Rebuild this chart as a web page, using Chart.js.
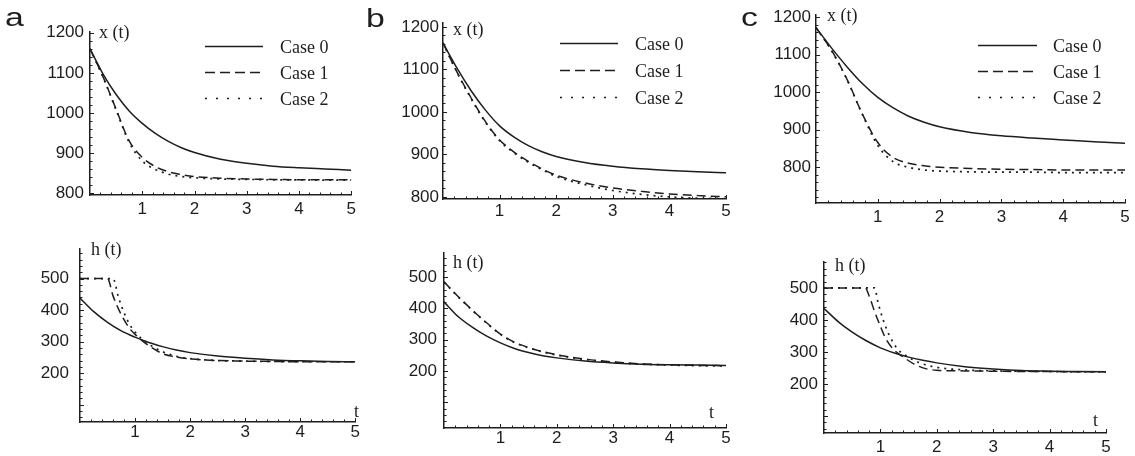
<!DOCTYPE html>
<html><head><meta charset="utf-8">
<script src="https://cdn.jsdelivr.net/npm/chart.js@4.4.1/dist/chart.umd.min.js"></script>
<style>
html,body{margin:0;padding:0;background:#fff;}
#wrap{position:relative;width:1135px;height:456px;overflow:hidden;background:#fff;}
canvas.box{position:absolute;}
</style></head><body><div id="wrap"></div>
<script>
// ---------- data ----------
const caseLabels = ['Case 0', 'Case 1', 'Case 2'];
const panelLetters = ['a', 'b', 'c'];
const xTickValues = [1, 2, 3, 4, 5];
const xStateTicks = [800, 900, 1000, 1100, 1200];
const hTicks = [200, 300, 400, 500];
const tGrid = [0, 0.25, 0.5, 0.75, 1, 1.25, 1.5, 1.75, 2, 2.5, 3, 3.5, 4, 4.5, 5];

// panel a
const xA0 = [1160, 1097, 1046, 1005, 974, 949, 929, 913, 901, 884, 874, 867, 863, 860, 857];
const xA1 = [1160, 1090, 1009, 930, 889, 866, 853, 846, 841, 837, 835, 834, 833, 833, 833];
const xA2 = [1160, 1089, 1007, 926, 880, 859, 847, 841, 838, 835, 834, 833, 833, 832, 832];
const hA0 = [438, 395, 361, 334, 314, 297, 284, 273, 265, 254, 247, 242, 239, 237, 236];
const tHA1 = [0, 0.5, 0.6, 0.75, 0.9, 1, 1.25, 1.5, 1.75, 2, 2.5, 3, 3.5, 4, 4.5, 5];
const hA1 = [500, 500, 445, 385, 342, 323, 287, 262, 251, 245, 240, 238, 237, 236, 236, 236];
const tHA2 = [0, 0.6, 0.7, 0.8, 0.9, 1, 1.25, 1.5, 1.75, 2, 2.5, 3, 3.5, 4, 4.5, 5];
const hA2 = [500, 500, 440, 392, 355, 330, 292, 268, 253, 246, 240, 238, 237, 236, 236, 236];

// panel b
const xB0 = [1162, 1102, 1049, 1004, 967, 941, 921, 906, 895, 881, 872, 866, 862, 859, 857];
const xB1 = [1162, 1093, 1032, 977, 934, 906, 884, 866, 851, 833, 821, 813, 807, 803, 800];
const xB2 = [1162, 1092, 1030, 975, 932, 904, 882, 864, 848, 829, 815, 806, 800, 797, 796];
const hB0 = [421, 374, 340, 312, 290, 272, 259, 249, 242, 232, 226, 222, 220, 219, 218];
const hB1 = [485, 438, 395, 355, 318, 292, 275, 262, 252, 238, 229, 223, 220, 218, 217];
const hB2 = [484, 437, 394, 354, 317, 291, 274, 261, 251, 237, 228, 222, 219, 217, 216];

// panel c
const xC0 = [1172, 1118, 1068, 1023, 986, 958, 936, 920, 908, 893, 884, 878, 873, 868, 864];
const xC1 = [1172, 1112, 1035, 942, 866, 826, 811, 804, 800, 797, 795, 794, 793, 793, 793];
const xC2 = [1172, 1111, 1034, 941, 858, 815, 800, 793, 790, 788, 787, 787, 786, 786, 786];
const hC0 = [436, 395, 362, 335, 313, 297, 284, 274, 266, 254, 247, 242, 240, 239, 238];
const tHC1 = [0, 0.73, 0.8, 0.9, 1, 1.1, 1.25, 1.4, 1.6, 1.8, 2, 2.5, 3, 3.5, 4, 4.5, 5];
const hC1 = [500, 500, 475, 425, 380, 340, 305, 285, 262, 248, 243, 241, 240, 239, 239, 238, 238];
const tHC2 = [0, 0.9, 0.95, 1.05, 1.15, 1.3, 1.45, 1.7, 2, 2.5, 3, 3.5, 4, 4.5, 5];
const hC2 = [500, 500, 460, 400, 355, 310, 289, 266, 252, 244, 241, 240, 239, 238, 238];

// ---------- styling / layout ----------
const INK = '#1e1e1e';
const curveDash = [[], [9, 5], [2, 5]];
const legendDash = [[], [10, 5], [2, 9]];
const SANS = '"Liberation Sans", Arial, sans-serif';
const SERIF = '"Liberation Serif", "Times New Roman", serif';

const panels = [
  { box: [0, 0, 360, 228], area: [90, 32, 353, 195], yMin: 795, yMax: 1202, yTicks: xStateTicks,
    yPad: 6, xPad: 4, title: 'x (t)', titlePos: [99, 38], letter: panelLetters[0], letterPos: [5, 26],
    legend: { x0: 205, x1: 263, tx: 280, rows: [46, 72, 98] },
    series: [{ t: tGrid, v: xA0, k: 0 }, { t: tGrid, v: xA1, k: 1 }, { t: tGrid, v: xA2, k: 2 }] },
  { box: [0, 228, 360, 228], area: [80, 245, 368, 422], yMin: 45, yMax: 593, yTicks: hTicks,
    yPad: 11, xPad: 0, title: 'h (t)', titlePos: [91, 255], tPos: [354, 417],
    series: [{ t: tGrid, v: hA0, k: 0 }, { t: tHA1, v: hA1, k: 1 }, { t: tHA2, v: hA2, k: 2 }] },
  { box: [360, 0, 378, 228], area: [443, 23, 726, 199], yMin: 795, yMax: 1209, yTicks: xStateTicks,
    yPad: 4, xPad: 2, title: 'x (t)', titlePos: [453, 35], letter: panelLetters[1], letterPos: [366, 27],
    legend: { x0: 560, x1: 618, tx: 635, rows: [43, 70, 97] },
    series: [{ t: tGrid, v: xB0, k: 0 }, { t: tGrid, v: xB1, k: 1 }, { t: tGrid, v: xB2, k: 2 }] },
  { box: [360, 228, 378, 228], area: [444, 253, 726, 428], yMin: 18, yMax: 577, yTicks: hTicks,
    yPad: 7, xPad: 0, title: 'h (t)', titlePos: [453, 268], tPos: [709, 418],
    series: [{ t: tGrid, v: hB0, k: 0 }, { t: tGrid, v: hB1, k: 1 }, { t: tGrid, v: hB2, k: 2 }] },
  { box: [738, 0, 397, 228], area: [816, 13, 1125, 203], yMin: 705, yMax: 1205, yTicks: xStateTicks,
    yPad: 5, xPad: 4, title: 'x (t)', titlePos: [827, 21], letter: panelLetters[2], letterPos: [741, 26],
    legend: { x0: 978, x1: 1037, tx: 1053, rows: [45, 71, 97] },
    series: [{ t: tGrid, v: xC0, k: 0 }, { t: tGrid, v: xC1, k: 1 }, { t: tGrid, v: xC2, k: 2 }] },
  { box: [738, 228, 397, 228], area: [824, 262, 1106, 433], yMin: 47, yMax: 581, yTicks: hTicks,
    yPad: 6, xPad: 4, title: 'h (t)', titlePos: [835, 271], tPos: [1093, 426],
    series: [{ t: tGrid, v: hC0, k: 0 }, { t: tHC1, v: hC1, k: 1 }, { t: tHC2, v: hC2, k: 2 }] }
];

function makeDecor(p) {
  const ox = p.box[0], oy = p.box[1];
  return {
    id: 'decor',
    afterDraw(chart) {
      const ctx = chart.ctx, a = chart.chartArea;
      const xs = chart.scales.x, ys = chart.scales.y;
      ctx.save();
      ctx.strokeStyle = INK; ctx.fillStyle = INK; ctx.lineWidth = 1;
      // ticks on axes (inside)
      ctx.beginPath();
      for (let i = 1; i <= 25; i++) {
        const v = i * 0.2;
        const px = Math.round(xs.getPixelForValue(v)) + 0.5;
        const len = (i % 5 === 0) ? 4 : 2.5;
        ctx.moveTo(px, a.bottom); ctx.lineTo(px, a.bottom - len);
      }
      for (let v = Math.ceil(ys.min / 20) * 20; v <= ys.max; v += 20) {
        const py = Math.round(ys.getPixelForValue(v)) + 0.5;
        const len = (v % 100 === 0) ? 4 : 2.5;
        ctx.moveTo(a.left, py); ctx.lineTo(a.left + len, py);
      }
      ctx.stroke();
      // axis title
      ctx.font = '18px ' + SERIF;
      ctx.textBaseline = 'alphabetic'; ctx.textAlign = 'left';
      ctx.fillText(p.title, p.titlePos[0] - ox, p.titlePos[1] - oy);
      if (p.tPos) ctx.fillText('t', p.tPos[0] - ox, p.tPos[1] - oy);
      // legend
      if (p.legend) {
        const L = p.legend;
        L.rows.forEach((ry, i) => {
          ctx.save();
          ctx.lineWidth = 1.6; ctx.setLineDash(legendDash[i]);
          ctx.beginPath();
          ctx.moveTo(L.x0 - ox, ry - oy + 0.5); ctx.lineTo(L.x1 - ox, ry - oy + 0.5);
          ctx.stroke();
          ctx.restore();
          ctx.fillText(caseLabels[i], L.tx - ox, ry - oy + 6.5);
        });
      }
      // panel letter
      if (p.letter) {
        ctx.save();
        ctx.font = '26px ' + SANS;
        ctx.translate(p.letterPos[0] - ox, p.letterPos[1] - oy);
        ctx.scale(1.3, 1);
        ctx.fillText(p.letter, 0, 0);
        ctx.restore();
      }
      ctx.restore();
    }
  };
}

const wrap = document.getElementById('wrap');
panels.forEach(p => {
  const cv = document.createElement('canvas');
  cv.className = 'box';
  cv.width = p.box[2]; cv.height = p.box[3];
  cv.style.left = p.box[0] + 'px'; cv.style.top = p.box[1] + 'px';
  cv.style.width = p.box[2] + 'px'; cv.style.height = p.box[3] + 'px';
  wrap.appendChild(cv);
  const yW = p.area[0] - p.box[0];
  const padTop = p.area[1] - p.box[1];
  const padRight = p.box[0] + p.box[2] - p.area[2];
  const xH = p.box[1] + p.box[3] - p.area[3];
  new Chart(cv, {
    type: 'line',
    data: {
      datasets: p.series.map((s, i) => ({
        label: caseLabels[i],
        data: s.t.map((t, j) => ({ x: t, y: s.v[j] })),
        borderColor: INK, borderWidth: s.k === 2 ? 1.7 : 1.5,
        borderDash: curveDash[s.k], borderCapStyle: 'butt',
        pointRadius: 0, fill: false,
        cubicInterpolationMode: 'monotone', tension: 0.4
      }))
    },
    options: {
      responsive: false, animation: false, devicePixelRatio: 1,
      events: [],
      layout: { padding: { top: padTop, right: padRight, left: 0, bottom: 0 } },
      plugins: { legend: { display: false }, tooltip: { enabled: false }, title: { display: false } },
      scales: {
        x: {
          type: 'linear', min: 0, max: 5,
          afterBuildTicks: s => { s.ticks = xTickValues.map(v => ({ value: v })); },
          afterFit: s => { s.height = xH; },
          grid: { display: true, drawOnChartArea: false, drawTicks: false },
          border: { display: true, color: INK, width: 1.5 },
          ticks: { autoSkip: false, maxRotation: 0, padding: p.xPad, color: INK,
                   font: { family: SANS, size: 17 }, callback: v => String(v) }
        },
        y: {
          type: 'linear', min: p.yMin, max: p.yMax,
          afterBuildTicks: s => { s.ticks = p.yTicks.map(v => ({ value: v })); },
          afterFit: s => { s.width = yW; },
          grid: { display: true, drawOnChartArea: false, drawTicks: false },
          border: { display: true, color: INK, width: 1.5 },
          ticks: { autoSkip: false, padding: p.yPad, color: INK,
                   font: { family: SANS, size: 17 }, callback: v => String(v) }
        }
      }
    },
    plugins: [makeDecor(p)]
  });
});
</script>
</body></html>
